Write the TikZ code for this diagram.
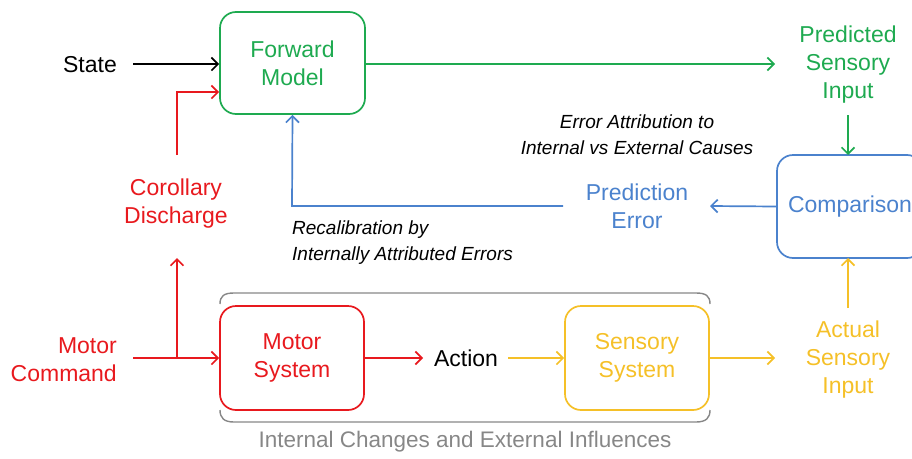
\documentclass[tikz,border=0pt]{standalone}
\usepackage{fontspec}
\setmainfont{Liberation Sans}
\usetikzlibrary{arrows.meta}
\definecolor{cgreen}{RGB}{30,170,80}
\definecolor{cred}{RGB}{232,25,30}
\definecolor{cyellow}{RGB}{245,192,40}
\definecolor{cblue}{RGB}{75,130,205}
\definecolor{cgray}{RGB}{135,135,135}
\tikzset{
  bigtxt/.style={font=\fontsize{23}{28}\selectfont, inner sep=0pt, align=center},
  ittxt/.style={font=\fontsize{19}{26}\selectfont\itshape, inner sep=0pt},
  rbox/.style={draw, line width=1.7pt, rounded corners=16pt, bigtxt},
  arr/.style={line width=1.7pt, -{Straight Barb[length=6.5pt,width=13pt,line width=1.7pt]}},
}
\begin{document}
\begin{tikzpicture}[x=1pt,y=-1pt]
\useasboundingbox (0,0) rectangle (912,458);
% boxes
\node[rbox, cgreen, minimum width=145pt, minimum height=102pt] (fm) at (292.5,63) {Forward\\Model};
\node[rbox, cred, minimum width=144pt, minimum height=104pt] (ms) at (292,358) {Motor\\System};
\node[rbox, cyellow, minimum width=144pt, minimum height=104pt] (ss) at (637,358) {Sensory\\System};
\node[rbox, cblue, minimum width=146pt, minimum height=103pt] (cmp) at (850,206.5) {Comparison};
% texts
\node[bigtxt, anchor=east] (state) at (117,65) {State};
\node[bigtxt, cred] (cd) at (176,204) {Corollary\\Discharge};
\node[bigtxt, cred, anchor=east, align=right] (mc) at (117,360) {Motor\\Command};
\node[bigtxt] (act) at (466,358) {Action};
\node[bigtxt, cyellow] (asi) at (848,360) {Actual\\Sensory\\Input};
\node[bigtxt, cgreen] (psi) at (848,65) {Predicted\\Sensory\\Input};
\node[bigtxt, cblue] (pe) at (637,206) {Prediction\\Error};
\node[ittxt, align=center] (ea) at (637,135) {Error Attribution to\\Internal vs External Causes};
\node[ittxt, align=left, anchor=west] (rc) at (292,243) {Recalibration by\\Internally Attributed Errors};
\node[bigtxt, cgray, font=\fontsize{22.5}{24}\selectfont] (ic) at (465,442) {Internal Changes and External Influences};
% coordinates
\coordinate (sA) at (133,64);
\coordinate (cdS) at (177,155);
\coordinate (cdB) at (177,92);
\coordinate (mcA) at (133,358);
\coordinate (br) at (177,358);
\coordinate (brT) at (177,258);
\coordinate (peL) at (563,206);
\coordinate (peC) at (292,206);
% connectors
\draw[arr, black] (sA) -- (sA -| fm.west);
\draw[arr, cred] (cdS) -- (cdB) -- (cdB -| fm.west);
\draw[arr, cred] (mcA) -- (ms.west);
\draw[arr, cred] (br) -- (brT);
\draw[arr, cred] (ms.east) -- (423,358);
\draw[arr, cyellow] (508,358) -- (ss.west);
\draw[arr, cyellow] (ss.east) -- (775,358);
\draw[arr, cyellow] (848,308) -- (848,258);
\draw[arr, cgreen] (fm.east |- 0,64) -- (775,64);
\draw[arr, cgreen] (848,115) -- (848,155);
\draw[arr, cblue] (cmp.west) -- (710,206);
\draw[arr, cblue] (peL) -- (peC) -- (fm.south);
% bracket
\draw[cgray, line width=1.4pt] (220,304) .. controls (220,296) and (224,293) .. (234,293) -- (696,293) .. controls (706,293) and (710,296) .. (710,304);
\draw[cgray, line width=1.4pt] (220,410) .. controls (220,418) and (224,422) .. (234,422) -- (696,422) .. controls (706,422) and (710,418) .. (710,410);
\end{tikzpicture}
\end{document}
